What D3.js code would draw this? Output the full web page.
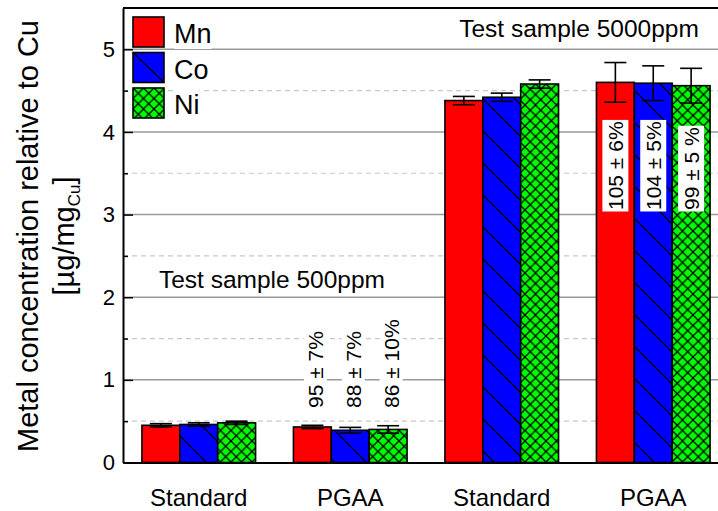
<!DOCTYPE html>
<html>
<head>
<meta charset="utf-8">
<script src="https://cdn.jsdelivr.net/npm/d3@7"></script>
<style>
body { margin: 0; background: #fff; }
text { font-family: "Liberation Sans", Arial, sans-serif; fill: #000; }
</style>
</head>
<body>
<div class="container"></div>
<script>
const groups = ['Standard 500', 'PGAA 500', 'Standard 5000', 'PGAA 5000']
const groupLabels = ['Standard', 'PGAA', 'Standard', 'PGAA']
const metals = ['Mn', 'Co', 'Ni']
const mnValues = [0.45, 0.43, 4.38, 4.60]
const mnErrors = [0.02, 0.02, 0.05, 0.24]
const coValues = [0.46, 0.39, 4.42, 4.59]
const coErrors = [0.02, 0.035, 0.05, 0.21]
const niValues = [0.48, 0.40, 4.58, 4.56]
const niErrors = [0.02, 0.045, 0.05, 0.21]
const pgaa500Labels = ['95 ± 7%', '88 ± 7%', '86 ± 10%']
const pgaa5000Labels = ['105 ± 6%', '104 ± 5%', '99 ± 5 %']
const yTicks = [0, 1, 2, 3, 4, 5]
const yMinorTicks = [0.5, 1.5, 2.5, 3.5, 4.5]

const width = 718
const height = 511
const plotLeft = 123
const plotTop = 8
const plotBottom = 462.5
const plotRight = 729   // frame goes past the picture edge

const valuesByMetal = {Mn: mnValues, Co: coValues, Ni: niValues}
const errorsByMetal = {Mn: mnErrors, Co: coErrors, Ni: niErrors}
const data = groups.flatMap((g, i) => metals.map(m => ({
  group: g, metal: m, value: valuesByMetal[m][i], err: errorsByMetal[m][i]
})))

const svg = d3.select('.container')
  .append('svg')
  .attr('width', width)
  .attr('height', height)

// hatch patterns
const defs = svg.append('defs')
const co = defs.append('pattern')
  .attr('id', 'hatchCo')
  .attr('patternUnits', 'userSpaceOnUse')
  .attr('width', 32).attr('height', 32)
co.append('rect').attr('width', 32).attr('height', 32).attr('fill', '#0000ff')
co.append('path').attr('d', 'M-2,-2L34,34').attr('stroke', '#000').attr('stroke-width', 1.3)

const ni = defs.append('pattern')
  .attr('id', 'hatchNi')
  .attr('patternUnits', 'userSpaceOnUse')
  .attr('width', 10.5).attr('height', 10.5)
ni.append('rect').attr('width', 10.5).attr('height', 10.5).attr('fill', '#00ff00')
ni.append('path').attr('d', 'M-1,-1L11.5,11.5M11.5,-1L-1,11.5').attr('stroke', '#000').attr('stroke-width', 1.3)

const fills = {Mn: '#ff0000', Co: 'url(#hatchCo)', Ni: 'url(#hatchNi)'}

const x0 = d3.scaleBand()
  .domain(groups)
  .range([plotLeft, plotRight])
  .paddingInner(0.25)
  .paddingOuter(0.125)

const x1 = d3.scaleBand()
  .domain(metals)
  .range([0, x0.bandwidth()])

const y = d3.scaleLinear()
  .domain([0, 5.5])
  .range([plotBottom, plotTop])

// grid
svg.append('g')
  .selectAll('line')
  .data(yMinorTicks)
  .join('line')
    .attr('x1', plotLeft).attr('x2', width)
    .attr('y1', d => y(d)).attr('y2', d => y(d))
    .attr('stroke', '#c8c8c8')
    .attr('stroke-dasharray', '5,4')
    .attr('stroke-width', 1.2)

svg.append('g')
  .selectAll('line')
  .data(yTicks.filter(d => d > 0))
  .join('line')
    .attr('x1', plotLeft).attr('x2', width)
    .attr('y1', d => y(d)).attr('y2', d => y(d))
    .attr('stroke', '#9a9a9a')
    .attr('stroke-width', 1.5)

// bars
svg.append('g')
  .selectAll('rect')
  .data(data)
  .join('rect')
    .attr('x', d => x0(d.group) + x1(d.metal))
    .attr('y', d => y(d.value))
    .attr('width', x1.bandwidth())
    .attr('height', d => y(0) - y(d.value))
    .attr('fill', d => fills[d.metal])
    .attr('stroke', '#000')
    .attr('stroke-width', 1.6)

// error bars
const errG = svg.append('g')
  .attr('stroke', '#000')
  .attr('stroke-width', 1.6)
const cx = d => x0(d.group) + x1(d.metal) + x1.bandwidth() / 2
errG.selectAll('.stem').data(data).join('line')
  .attr('x1', cx).attr('x2', cx)
  .attr('y1', d => y(d.value + d.err)).attr('y2', d => y(d.value - d.err))
errG.selectAll('.capTop').data(data).join('line')
  .attr('x1', d => cx(d) - 11).attr('x2', d => cx(d) + 11)
  .attr('y1', d => y(d.value + d.err)).attr('y2', d => y(d.value + d.err))
errG.selectAll('.capBot').data(data).join('line')
  .attr('x1', d => cx(d) - 11).attr('x2', d => cx(d) + 11)
  .attr('y1', d => y(d.value - d.err)).attr('y2', d => y(d.value - d.err))

// text with a white box behind it
function boxedText(x, yPos, str, size, pad, rotate, anchor) {
  const g = svg.append('g')
    .attr('transform', `translate(${x},${yPos})` + (rotate ? ' rotate(-90)' : ''))
  const t = g.append('text')
    .attr('text-anchor', anchor)
    .attr('dominant-baseline', rotate ? 'central' : 'auto')
    .style('font-size', size + 'px')
    .text(str)
  const b = t.node().getBBox()
  g.insert('rect', 'text')
    .attr('x', b.x - pad).attr('y', b.y - pad)
    .attr('width', b.width + 2 * pad).attr('height', b.height + 2 * pad)
    .attr('fill', '#fff')
  return g
}

metals.forEach((m, i) => {
  boxedText(x0('PGAA 500') + x1(m) + x1.bandwidth() / 2 + 3, 408, pgaa500Labels[i], 21, 0, true, 'start')
  boxedText(x0('PGAA 5000') + x1(m) + x1.bandwidth() / 2, 210, pgaa5000Labels[i], 21, 1.5, true, 'start')
})

// axes
const yAxis = d3.axisLeft(y)
  .tickValues(yTicks)
  .tickSize(-10)
  .tickSizeOuter(0)
  .tickPadding(8)
  .tickFormat(d3.format('d'))
const yg = svg.append('g')
  .attr('transform', `translate(${plotLeft},0)`)
  .call(yAxis)
yg.select('.domain').attr('stroke', '#000').attr('stroke-width', 2)
yg.selectAll('.tick line').attr('stroke', '#000').attr('stroke-width', 1.5)
yg.selectAll('text').style('font-size', '22px').attr('fill', '#000')

const yMinor = d3.axisLeft(y)
  .tickValues(yMinorTicks)
  .tickSize(-5)
  .tickSizeOuter(0)
  .tickFormat('')
const ymg = svg.append('g')
  .attr('transform', `translate(${plotLeft},0)`)
  .call(yMinor)
ymg.select('.domain').remove()
ymg.selectAll('.tick line').attr('stroke', '#000').attr('stroke-width', 1.5)

const xAxis = d3.axisBottom(x0)
  .tickSize(0)
  .tickSizeOuter(0)
  .tickPadding(26)
  .tickFormat((d, i) => groupLabels[i])
const xg = svg.append('g')
  .attr('transform', `translate(0,${plotBottom})`)
  .call(xAxis)
xg.select('.domain').attr('stroke', '#000').attr('stroke-width', 2)
xg.selectAll('text').style('font-size', '24px').attr('fill', '#000')

// top frame
svg.append('line')
  .attr('x1', plotLeft).attr('x2', width)
  .attr('y1', plotTop).attr('y2', plotTop)
  .attr('stroke', '#000').attr('stroke-width', 2)

// y title
const title = svg.append('g')
  .attr('transform', 'translate(38,236) rotate(-90)')
title.append('text')
  .attr('text-anchor', 'middle')
  .style('font-size', '29px')
  .text('Metal concentration relative to Cu')
const unit = svg.append('g')
  .attr('transform', 'translate(74,236) rotate(-90)')
  .append('text')
  .attr('text-anchor', 'middle')
  .style('font-size', '29px')
unit.append('tspan').text('[µg/mg')
unit.append('tspan').attr('dy', 6).style('font-size', '17px').text('Cu')
unit.append('tspan').attr('dy', -6).text(']')

// annotations
svg.append('text')
  .attr('x', 579).attr('y', 37)
  .attr('text-anchor', 'middle')
  .style('font-size', '24.5px')
  .text('Test sample 5000ppm')
svg.append('text')
  .attr('x', 272).attr('y', 288)
  .attr('text-anchor', 'middle')
  .style('font-size', '24.5px')
  .text('Test sample 500ppm')

// legend
const legend = svg.append('g')
metals.forEach((m, i) => {
  const ly = 17 + i * 35.5
  const g = legend.append('g').attr('transform', `translate(133,${ly})`)
  g.append('rect')
    .attr('width', 31).attr('height', 30)
    .attr('fill', m === 'Co' ? '#0000ff' : fills[m])
    .attr('stroke', '#000').attr('stroke-width', 1.6)
  if (m === 'Co') {
    g.append('line').attr('x1', 0).attr('y1', 0).attr('x2', 31).attr('y2', 30)
      .attr('stroke', '#000').attr('stroke-width', 1.3)
  }
  const t = g.append('text')
    .attr('x', 41).attr('y', 26)
    .style('font-size', '27px')
    .text(m)
  const b = t.node().getBBox()
  g.insert('rect', 'text')
    .attr('x', b.x).attr('y', b.y)
    .attr('width', b.width).attr('height', b.height)
    .attr('fill', '#fff')
})
</script>
</body>
</html>
